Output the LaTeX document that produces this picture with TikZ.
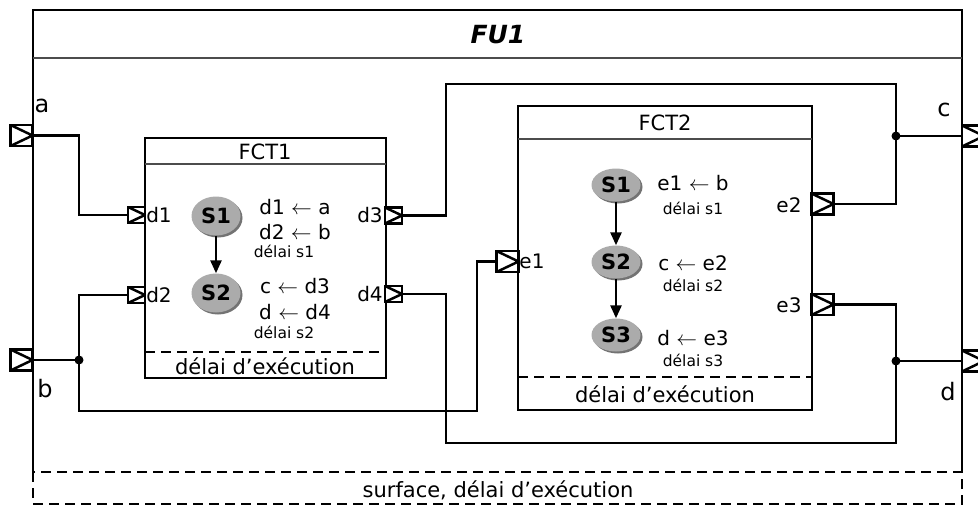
\documentclass[tikz,border=0pt]{standalone}
\usepackage{fontspec}
\setmainfont{DejaVu Sans}
\usetikzlibrary{shapes.geometric,shadows,arrows.meta}
\newcommand\fsz[1]{\fontsize{#1}{#1}\selectfont}
\begin{document}
\begin{tikzpicture}[x=1pt,y=-1pt,
  wire/.style={line width=2.7pt},
  boxline/.style={draw,line width=2.7pt},
  sepline/.style={draw=black!70,line width=2pt},
  dashline/.style={line width=2.7pt,dash pattern=on 10pt off 6pt},
  portbox/.style={draw,line width=2.5pt,fill=white,minimum width=17pt,minimum height=16pt,inner sep=0pt,
    path picture={\draw[line width=2.5pt] (path picture bounding box.north west) -- (path picture bounding box.east) -- (path picture bounding box.south west);}},
  bigport/.style={portbox,minimum width=22pt,minimum height=21pt},
  state/.style={ellipse,fill=black!33,minimum width=49pt,minimum height=39pt,inner sep=0pt,
    drop shadow={shadow xshift=2pt,shadow yshift=-2pt,fill=black!55,opacity=1},font=\fsz{21}\bfseries},
  flatstate/.style={state,minimum height=33pt},
  txt/.style={inner sep=0pt,font=\fsz{20}},
  small/.style={inner sep=0pt,font=\fsz{15.5}},
  lbl/.style={inner sep=0pt,font=\fsz{20}},
  biglbl/.style={inner sep=0pt,font=\fsz{24}},
  title/.style={inner sep=0pt,font=\fsz{21}},
  arr/.style={line width=2.6pt,-{Triangle[length=13pt,width=11pt]}}
]
\useasboundingbox (0,0) rectangle (978,506);
\fill[white] (0,0) rectangle (978,506);

% outer FU1 box
\draw[line width=2.7pt] (33,472) -- (33,10) -- (962,10) -- (962,472);
\draw[sepline] (33,58) -- (962,58);
\draw[dashline] (33,472) rectangle (962,504);
\node[inner sep=0pt,font=\fsz{25}\bfseries\itshape] (fu) at (498,35) {FU1};
\node[title] (surf) at (498,490) {surface, délai d’exécution};

% FCT1
\draw[boxline] (145,138) rectangle (386,378);
\draw[sepline] (145,164) -- (386,164);
\draw[dashline] (145,352) -- (386,352);
\node[title] (t1) at (265,152) {FCT1};
\node[title] (x1) at (265,366) {délai d’exécution};

% FCT2
\draw[boxline] (518,106) rectangle (812,410);
\draw[sepline] (518,139) -- (812,139);
\draw[dashline] (518,377) -- (812,377);
\node[title] (t2) at (665,123) {FCT2};
\node[title] (x2) at (665,394) {délai d’exécution};

% outer ports
\node[bigport] (pa) at (21.5,135.5) {};
\node[bigport] (pb) at (21.5,360) {};
\node[bigport] (pc) at (973,136) {};
\node[bigport] (pd) at (973,361) {};
\node[biglbl] (la) at (42,106) {a};
\node[biglbl] (lb) at (45,389) {b};
\node[biglbl] (lc) at (944,110) {c};
\node[biglbl] (ld) at (948,392) {d};

% FCT1 ports
\node[portbox] (d1) at (136.5,215) {};
\node[portbox] (d2) at (136.5,295) {};
\node[portbox] (d3) at (393.5,215.5) {};
\node[portbox] (d4) at (393.5,294) {};
\node[lbl] (ld1) at (159,215) {d1};
\node[lbl] (ld2) at (159,295) {d2};
\node[lbl] (ld3) at (370,215) {d3};
\node[lbl] (ld4) at (370,294) {d4};

% FCT2 ports
\node[bigport] (e1) at (507.5,261.5) {};
\node[bigport] (e2) at (822.5,204) {};
\node[bigport] (e3) at (822.5,304.5) {};
\node[lbl] (le1) at (532,261) {e1};
\node[lbl] (le2) at (789,205) {e2};
\node[lbl] (le3) at (789,305) {e3};

% FCT1 states
\node[state] (s11) at (216,216) {S1};
\node[state] (s12) at (216,293) {S2};
\draw[arr] (s11) -- (s12);
\node[txt] (a11) at (295,207) {d1 $\leftarrow$ a};
\node[txt] (a12) at (295,232) {d2 $\leftarrow$ b};
\node[small] (ds11) at (284,251) {délai s1};
\node[txt] (a13) at (295,286) {c $\leftarrow$ d3};
\node[txt] (a14) at (295,312) {d $\leftarrow$ d4};
\node[small] (ds12) at (284,332) {délai s2};

% FCT2 states
\node[flatstate] (s21) at (616,185) {S1};
\node[flatstate] (s22) at (616,262) {S2};
\node[flatstate] (s23) at (616,335) {S3};
\draw[arr] (s21) -- (s22);
\draw[arr] (s22) -- (s23);
\node[txt] (b11) at (693,183) {e1 $\leftarrow$ b};
\node[small] (ds21) at (693,208) {délai s1};
\node[txt] (b12) at (693,263) {c $\leftarrow$ e2};
\node[small] (ds22) at (693,285) {délai s2};
\node[txt] (b13) at (693,338) {d $\leftarrow$ e3};
\node[small] (ds23) at (693,360) {délai s3};

% junctions
\coordinate (jb) at (79,360);
\coordinate (jc) at (896,136);
\coordinate (jd) at (896,361);

% wires
\draw[wire] (pa.east) -- (pa.east -| jb) |- (d1.west);
\draw[wire] (pb.east) -- (jb);
\draw[wire] (jb) |- (d2.west);
\draw[wire] (jb) |- (477,411) |- (e1.west);
\draw[wire] (d3.east) -| (446,84) -| (jc);
\draw[wire] (jc) |- (e2.east);
\draw[wire] (jc) -- (pc.west);
\draw[wire] (d4.east) -| (446,443) -| (jd);
\draw[wire] (jd) |- (e3.east);
\draw[wire] (jd) -- (pd.west);
\fill (jb) circle (4.5pt);
\fill (jc) circle (4.5pt);
\fill (jd) circle (4.5pt);
\end{tikzpicture}
\end{document}
